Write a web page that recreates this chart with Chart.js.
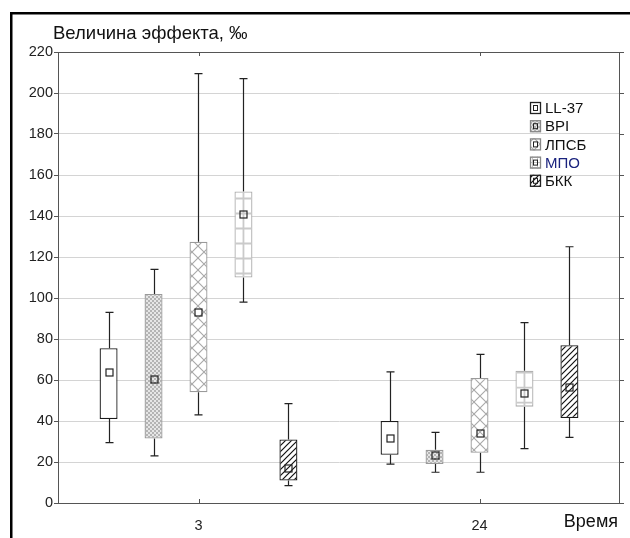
<!DOCTYPE html>
<html>
<head>
<meta charset="utf-8">
<script src="https://cdn.jsdelivr.net/npm/chart.js@4/dist/chart.umd.min.js"></script>
<style>
  body { margin: 0; background: #fff; }
  #wrap { width: 630px; height: 538px; }
</style>
</head>
<body>
<div id="wrap"><canvas id="chart" width="630" height="538"></canvas></div>
<script>
// data: [series][time point]
var categories = ["3", "24"];
var seriesNames = ["LL-37", "BPI", "ЛПСБ", "МПО", "БКК"];
var whiskerLow  = [[29.5, 19], [23, 15], [43, 15], [98, 26.5], [8.5, 32]];
var boxLow      = [[41, 23.5], [31.5, 19], [54, 24.5], [110, 47], [11, 41.5]];
var medians     = [[64, 31.5], [60.5, 23.5], [93, 34], [141, 53.5], [17, 56.5]];
var boxHigh     = [[75.5, 40], [102, 26], [127.5, 61], [152, 64.5], [31, 77]];
var whiskerHigh = [[93, 64], [114, 34.5], [209.5, 72.5], [207, 88], [48.5, 125]];
var yTicks = [0, 20, 40, 60, 80, 100, 120, 140, 160, 180, 200, 220];

var FONT = "'Liberation Sans', Arial, sans-serif";
var ctx = document.getElementById("chart");
var c2d = ctx.getContext("2d");

function makePattern(w, h, draw) {
  var c = document.createElement("canvas");
  c.width = w; c.height = h;
  var x = c.getContext("2d");
  x.fillStyle = "#fff";
  x.fillRect(0, 0, w, h);
  draw(x, w, h);
  return c2d.createPattern(c, "repeat");
}

var gridPattern = makePattern(5, 5, function (x) {
  x.fillStyle = "#c4c4c4";
  x.fillRect(0, 2, 5, 1);
  x.fillRect(2, 0, 1, 5);
});

var fills = [
  "#ffffff",
  makePattern(4, 4, function (x) {
    x.fillStyle = "#e6e6e6"; x.fillRect(0, 0, 4, 4);
    x.fillStyle = "#b4b4b4"; x.fillRect(0, 0, 2, 2); x.fillRect(2, 2, 2, 2);
  }),
  makePattern(12, 12, function (x) {
    x.strokeStyle = "#a8a8a8"; x.lineWidth = 1.1;
    x.beginPath();
    x.moveTo(0, 0); x.lineTo(12, 12);
    x.moveTo(12, 0); x.lineTo(0, 12);
    x.stroke();
  }),
  "#ffffff",
  makePattern(6, 6, function (x) {
    x.strokeStyle = "#111"; x.lineWidth = 1.2;
    x.beginPath();
    x.moveTo(0, 6); x.lineTo(6, 0);
    x.moveTo(-1, 1); x.lineTo(1, -1);
    x.moveTo(5, 7); x.lineTo(7, 5);
    x.stroke();
  })
];
var borders = ["#1a1a1a", "#9a9a9a", "#9a9a9a", "#b0b0b0", "#1a1a1a"];
var legendColors = ["#111", "#111", "#111", "#1a237e", "#111"];

var datasets = seriesNames.map(function (name, i) {
  return {
    label: name,
    data: categories.map(function (c, j) { return [boxLow[i][j], boxHigh[i][j]]; }),
    backgroundColor: fills[i],
    borderColor: borders[i],
    borderWidth: 1.3,
    borderSkipped: false,
    barPercentage: 0.4,
    categoryPercentage: 0.8
  };
});

// whiskers, medians, frame, legend and texts
var boxPlotExtras = {
  id: "boxPlotExtras",
  beforeDraw: function (chart) {
    var g = chart.ctx;
    g.save();
    g.fillStyle = "#fff";
    g.fillRect(0, 0, chart.width, chart.height);
    g.restore();
  },
  beforeDatasetsDraw: function (chart) {
    var g = chart.ctx, ys = chart.scales.y;
    g.save();
    g.strokeStyle = "#222";
    g.lineWidth = 1.2;
    chart.data.datasets.forEach(function (ds, i) {
      chart.getDatasetMeta(i).data.forEach(function (bar, j) {
        var x = Math.round(bar.x) + 0.5;
        var yTop = ys.getPixelForValue(whiskerHigh[i][j]);
        var yBot = ys.getPixelForValue(whiskerLow[i][j]);
        g.beginPath();
        g.moveTo(x, yTop); g.lineTo(x, ys.getPixelForValue(boxHigh[i][j]));
        g.moveTo(x, ys.getPixelForValue(boxLow[i][j])); g.lineTo(x, yBot);
        g.moveTo(x - 4, yTop); g.lineTo(x + 4, yTop);
        g.moveTo(x - 4, yBot); g.lineTo(x + 4, yBot);
        g.stroke();
      });
    });
    g.restore();
  },
  afterDatasetsDraw: function (chart) {
    var g = chart.ctx, ys = chart.scales.y, xs = chart.scales.x, a = chart.chartArea;
    g.save();

    // МПО boxes: centre line and rows inside the box
    chart.getDatasetMeta(3).data.forEach(function (bar) {
      var left = bar.x - bar.width / 2, top = bar.y, bottom = bar.base;
      g.save();
      g.beginPath();
      g.rect(left + 1, top + 1, bar.width - 2, bottom - top - 2);
      g.clip();
      g.strokeStyle = "#cacaca";
      g.lineWidth = 1.8;
      g.beginPath();
      g.moveTo(bar.x, top); g.lineTo(bar.x, bottom);
      for (var y = bottom - 4; y > top; y -= 15) {
        g.moveTo(left, y); g.lineTo(left + bar.width, y);
      }
      g.stroke();
      g.restore();
    });

    g.strokeStyle = "#222";
    g.lineWidth = 1.2;
    chart.data.datasets.forEach(function (ds, i) {
      chart.getDatasetMeta(i).data.forEach(function (bar, j) {
        var x = Math.round(bar.x) + 0.5;
        var y = Math.round(ys.getPixelForValue(medians[i][j])) + 0.5;
        g.strokeRect(x - 3.5, y - 3.5, 7, 7);
      });
    });

    // plot frame
    g.strokeStyle = "#555";
    g.lineWidth = 1;
    g.strokeRect(a.left + 0.5, a.top + 0.5, a.right - a.left - 1, a.bottom - a.top);
    // right side ticks and category ticks
    g.beginPath();
    yTicks.forEach(function (v) {
      var y = Math.round(ys.getPixelForValue(v)) + 0.5;
      g.moveTo(a.right, y); g.lineTo(a.right + 4, y);
    });
    categories.forEach(function (c, j) {
      var x = Math.round(xs.getPixelForValue(j)) + 0.5;
      g.moveTo(x, a.bottom); g.lineTo(x, a.bottom - 4);
      g.moveTo(x, a.top); g.lineTo(x, a.top + 4);
    });
    g.stroke();

    // legend
    var lx = 530, ly = 108;
    g.font = "15px " + FONT;
    g.textBaseline = "middle";
    chart.data.datasets.forEach(function (ds, i) {
      var y = ly + i * 18.2;
      g.fillStyle = i === 3 ? gridPattern : ds.backgroundColor;
      g.fillRect(lx, y - 6, 11, 12);
      g.strokeStyle = i === 0 || i === 4 ? "#222" : "#888";
      g.lineWidth = 1.3;
      g.strokeRect(lx + 0.5, y - 5.5, 10, 11);
      g.strokeStyle = "#222";
      g.lineWidth = 1;
      g.strokeRect(lx + 3.5, y - 2.5, 4, 5);
      g.fillStyle = legendColors[i];
      g.fillText(ds.label, lx + 15, y + 1);
    });

    // titles
    g.fillStyle = "#111";
    g.font = "18.5px " + FONT;
    g.textBaseline = "alphabetic";
    g.fillText("Величина эффекта, ‰", 53, 39);
    g.font = "18px " + FONT;
    g.textAlign = "right";
    g.fillText("Время", 618, 527);

    // outer frame
    g.fillStyle = "#000";
    g.fillRect(10, 12, 620, 2.5);
    g.fillRect(10, 12, 2.5, 526);
    g.restore();
  }
};

var myChart = new Chart(ctx, {
  type: "bar",
  data: { labels: categories, datasets: datasets },
  options: {
    responsive: false,
    animation: false,
    devicePixelRatio: 1,
    layout: { padding: { left: 0, right: 10, top: 52, bottom: 0 } },
    plugins: {
      legend: { display: false },
      title: { display: false },
      tooltip: { enabled: false }
    },
    scales: {
      x: {
        grid: { display: false },
        border: { color: "#555", width: 1 },
        ticks: { color: "#222", font: { family: FONT, size: 14.5 }, padding: 6 },
        afterFit: function (s) { s.height = 35; }
      },
      y: {
        min: 0,
        max: 220,
        afterBuildTicks: function (s) {
          s.ticks = yTicks.map(function (v) { return { value: v }; });
        },
        grid: { color: "#d4d4d4", tickColor: "#555", tickLength: 4, lineWidth: 1 },
        border: { color: "#555", width: 1 },
        ticks: { color: "#222", font: { family: FONT, size: 14.5 }, padding: 1 },
        afterFit: function (s) { s.width = 58; }
      }
    }
  },
  plugins: [boxPlotExtras]
});
</script>
</body>
</html>
